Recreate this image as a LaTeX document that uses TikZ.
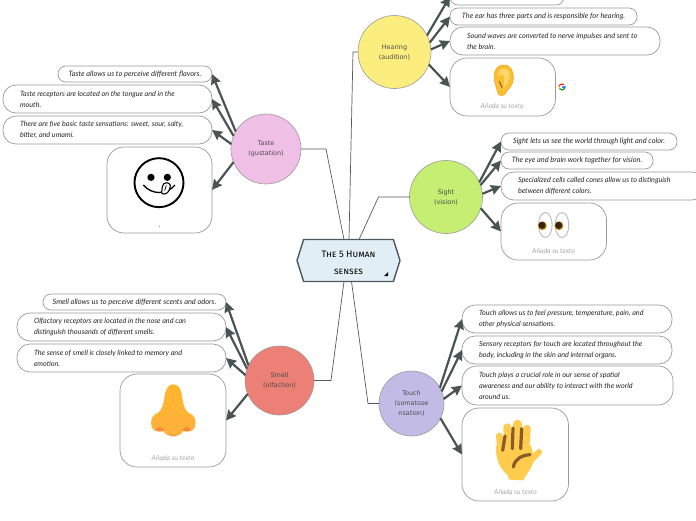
\documentclass[tikz,border=0pt]{standalone}
\usepackage{xcolor}
\usepackage{fontspec}
\setmainfont{Lato}
\newfontfamily\topicfont{DejaVu Sans}
\newfontfamily\titlefont[Letters=SmallCaps]{Fira Sans}
\usetikzlibrary{positioning, arrows.meta, shapes.symbols}
\definecolor{rootfill}{HTML}{E1EEF5}
\definecolor{rootborder}{HTML}{4A5A60}
\definecolor{arrowgray}{HTML}{4A5553}
\definecolor{boxborder}{HTML}{9A9A9A}
\definecolor{hearingyellow}{HTML}{FBEE7F}
\definecolor{tastepink}{HTML}{EFBFE6}
\definecolor{sightgreen}{HTML}{C5EE72}
\definecolor{smellred}{HTML}{EC8076}
\definecolor{touchviolet}{HTML}{C2BBE5}
\definecolor{skinyellow}{HTML}{FFCC4D}
\definecolor{creasebrown}{HTML}{8A5A2B}
\definecolor{earouter}{HTML}{FBBF33}
\definecolor{earinner}{HTML}{FFD766}
\definecolor{earedge}{HTML}{F2A61F}
\definecolor{nosetop}{HTML}{FFB62E}
\definecolor{nosemid}{HTML}{FFDC4C}
\definecolor{nosebottom}{HTML}{FFB03B}
\definecolor{nostrilred}{HTML}{F98A3C}
\definecolor{irisgold}{HTML}{B8860B}
\definecolor{pupildark}{HTML}{3A2410}
\tikzset{
  topic/.style={circle, draw=boxborder, line width=0.6pt, inner sep=0pt, outer sep=0pt, align=center,
    text=black!70, font=\topicfont\fontsize{6.4}{10}\selectfont},
  notebox/.style={draw=boxborder, fill=white, line width=0.7pt, rounded corners=8pt, inner sep=0pt, outer sep=0pt,
    font=\fontsize{7.4}{11}\selectfont\itshape, text=black!85, align=center, minimum height=17pt},
  longnote/.style={rounded corners=13pt, minimum height=28pt, minimum width=#1, text width=#1-6pt, align=none,
    font=\fontsize{7.2}{11}\selectfont\itshape,
    execute at begin node={\leftskip=14pt\rightskip=0pt plus 1fil\relax}},
  picturebox/.style={draw=boxborder, fill=white, line width=0.7pt, rounded corners=17pt, inner sep=0pt, outer sep=0pt},
  captiontext/.style={font=\fontsize{6.8}{8}\selectfont\itshape, text=black!35, inner sep=0pt},
  link/.style={draw=black!65, line width=0.7pt},
  branch/.style={draw=arrowgray, line width=2.2pt, -{Stealth[length=10pt, width=10pt, inset=1pt]}}
}
\begin{document}
\begin{tikzpicture}[x=1pt, y=-1pt]
  \clip (0,0) rectangle (696,520);

  \node[signal, signal to=east and west, signal pointer angle=145,
        minimum width=103pt, minimum height=42pt, inner sep=0pt, outer sep=0pt, fill=rootfill, draw=rootborder,
        line width=1.4pt, align=center, font=\titlefont\fontsize{9.4}{17}\selectfont] (root) at (348.5,260.5)
    {\rule{0pt}{12pt}The 5 Human\\senses};
  \fill (384,276) -- (388,276) -- (388,272) -- cycle;

  \node[topic, minimum size=73pt, fill=hearingyellow] (hearing) at (394.5,52) {Hearing\\(audition)};
  \node[topic, minimum size=70pt, fill=tastepink] (taste) at (266,149) {Taste\\(gustation)};
  \node[topic, minimum size=73pt, fill=sightgreen] (sight) at (446,197) {Sight\\(vision)};
  \node[topic, minimum size=69pt, fill=smellred] (smell) at (279.5,380.5) {Smell\\(olfaction)};
  \node[topic, minimum size=65pt, fill=touchviolet] (touch) at (411.5,403.5) {Touch\\(somatose\\nsation)};

  \node[notebox, minimum width=114pt, anchor=south west] (hear0) at (450,5) {};
  \node[notebox, minimum width=187pt, anchor=north west] (hear1) at (450,8)
    {The ear has three parts and is responsible for hearing.};
  \node[notebox, longnote=210pt, below=2pt of hear1.south west, anchor=north west] (hear2)
    {Sound waves are converted to nerve impulses and sent to\\the brain.};
  \node[picturebox, minimum width=105.5pt, minimum height=58pt, below=3pt of hear2.south west, anchor=north west] (hear3) {};
  \node[captiontext] (hearcap) at (502,106) {Añada su texto};

  \node[notebox, minimum width=154pt, minimum height=16pt, anchor=north east] (taste1) at (212,66)
    {Taste allows us to perceive different flavors.};
  \node[notebox, longnote=209pt, below=3pt of taste1.south east, anchor=north east] (taste2)
    {Taste receptors are located on the tongue and in the\\mouth.};
  \node[notebox, longnote=209pt, below=3pt of taste2.south east, anchor=north east] (taste3)
    {There are five basic taste sensations: sweet, sour, salty,\\bitter, and umami.};
  \node[picturebox, minimum width=105pt, minimum height=86pt, below=3pt of taste3.south east, anchor=north east] (taste4) {};

  \node[notebox, minimum width=176pt, anchor=north west] (sight1) at (501,133)
    {Sight lets us see the world through light and color.};
  \node[notebox, minimum width=152pt, below=2pt of sight1.south west, anchor=north west] (sight2)
    {The eye and brain work together for vision.};
  \node[notebox, longnote=204pt, below=3pt of sight2.south west, anchor=north west] (sight3)
    {Specialized cells called cones allow us to distinguish\\between different colors.};
  \node[picturebox, minimum width=105.5pt, minimum height=57pt, below=3pt of sight3.south west, anchor=north west] (sight4) {};
  \node[captiontext] (sightcap) at (553.5,251) {Añada su texto};

  \node[notebox, minimum width=183pt, minimum height=16pt, anchor=north east] (smell1) at (226,294)
    {Smell allows us to perceive different scents and odors.};
  \node[notebox, longnote=209pt, below=3pt of smell1.south east, anchor=north east] (smell2)
    {Olfactory receptors are located in the nose and can\\distinguish thousands of different smells.};
  \node[notebox, longnote=209pt, below=3pt of smell2.south east, anchor=north east] (smell3)
    {The sense of smell is closely linked to memory and\\emotion.};
  \node[picturebox, minimum width=106pt, minimum height=93pt, below=2pt of smell3.south east, anchor=north east] (smell4) {};
  \node[captiontext] (smellcap) at (173,458) {Añada su texto};

  \node[notebox, longnote=210pt, anchor=north west] (touch1) at (462,305)
    {Touch allows us to feel pressure, temperature, pain, and\\other physical sensations.};
  \node[notebox, longnote=210pt, below=3pt of touch1.south west, anchor=north west] (touch2)
    {Sensory receptors for touch are located throughout the\\body, including in the skin and internal organs.};
  \node[notebox, longnote=211pt, minimum height=39pt, rounded corners=15pt, below=2pt of touch2.south west, anchor=north west] (touch3)
    {Touch plays a crucial role in our sense of spatial\\awareness and our ability to interact with the world\\around us.};
  \node[picturebox, minimum width=106.5pt, minimum height=93pt, below=3pt of touch3.south west, anchor=north west] (touch4) {};
  \node[captiontext] (touchcap) at (515.5,492) {Añada su texto};

  \draw[link] (hearing.west) -- ++(-5,0) -- ([xshift=0.5pt]root.north);
  \draw[link] (taste.east) -- ++(25,0) -- ([xshift=-4.5pt]root.north);
  \draw[link] (sight.west) -- ++(-31,0) -- ([xshift=10.5pt]root.north);
  \draw[link] (smell.east) -- ++(17,0) -- ([xshift=-4.5pt]root.south);
  \draw[link] (touch.west) -- ++(-11,0) -- ([xshift=3pt]root.south);

  \draw[branch] (hearing.27) -- (hear0.west);
  \draw[branch] (hearing.15) -- (hear1.west);
  \draw[branch] (hearing.4) -- (hear2.west);
  \draw[branch] (hearing.-20) -- (hear3.west);
  \draw[branch] (taste.150) -- (taste1.east);
  \draw[branch] (taste.158) -- (taste2.east);
  \draw[branch] (taste.172) -- (taste3.east);
  \draw[branch] (taste.202) -- (taste4.east);
  \draw[branch] (sight.24) -- (sight1.west);
  \draw[branch] (sight.19) -- (sight2.west);
  \draw[branch] (sight.5) -- (sight3.west);
  \draw[branch] (sight.-18) -- (sight4.west);
  \draw[branch] (smell.154) -- (smell1.east);
  \draw[branch] (smell.160) -- (smell2.east);
  \draw[branch] (smell.171) -- (smell3.east);
  \draw[branch] (smell.203) -- (smell4.east);
  \draw[branch] (touch.29) -- (touch1.west);
  \draw[branch] (touch.22) -- (touch2.west);
  \draw[branch] (touch.8) -- (touch3.west);
  \draw[branch] (touch.-27) -- (touch4.west);

  \begin{scope}[shift={(470,55)}, x=0.3333pt, y=-0.3333pt]
    \filldraw[draw=earedge, line width=0.5pt, fill=earouter]
      (100,30) .. controls (122,28) and (132,50) .. (130,72) .. controls (128,95) and (115,100) .. (110,110)
      .. controls (105,125) and (85,128) .. (82,110) .. controls (80,95) and (72,85) .. (72,65)
      .. controls (72,42) and (85,30) .. (100,30) -- cycle;
    \fill[earinner] (102,40) .. controls (115,42) and (122,55) .. (118,72) .. controls (114,85) and (105,90) .. (102,100)
      .. controls (100,85) and (106,70) .. (100,60) .. controls (92,55) and (85,60) .. (83,65) .. controls (84,50) and (92,40) .. (102,40) -- cycle;
    \draw[brown!70!black, line width=1pt] (88,78) .. controls (92,84) and (92,90) .. (96,98);
  \end{scope}

  \begin{scope}[line width=1.1pt]
    \draw[red!80!orange] (564.1,84.9) arc (-45:-170:3);
    \draw[yellow!80!orange] (559.05,86.5) arc (-170:-215:3);
    \draw[green!60!black] (559.5,88.7) arc (-215:-320:3);
    \draw[blue!70!cyan] (564.3,88.9) arc (-320:-360:3) -- (562.2,87);
  \end{scope}

  \begin{scope}[shift={(125,150)}, x=0.3333pt, y=-0.3333pt]
    \draw[black, line width=1.9pt] (102,98) circle (24.5pt);
    \fill[black] (78,82) circle (3.6pt) (127,82) circle (3.6pt);
    \draw[black, line width=1.3pt] (55,105) .. controls (80,135) and (125,135) .. (150,105);
    \draw[black, fill=white, line width=1.1pt] (110,128) -- (112,110) .. controls (114,95) and (134,95) .. (136,106)
      .. controls (136,118) and (128,132) .. (118,132) .. controls (114,132) and (110,132) .. (110,128) -- cycle;
    \draw[black, line width=0.7pt] (124,106) -- (119,122);
  \end{scope}
  \fill[black!70] (159.5,226) circle (0.5pt);

  \begin{scope}[shift={(525,205)}, x=0.3333pt, y=-0.3333pt]
    \draw[black!25, fill=white, line width=1pt] (61,60) ellipse (6.8pt and 12.5pt) (111,60) ellipse (6.8pt and 12.5pt);
    \fill[irisgold] (52,62) circle (4.4pt) (102,62) circle (4.4pt);
    \fill[pupildark] (51,61) circle (3.5pt) (101,61) circle (3.5pt);
  \end{scope}

  \begin{scope}[shift={(140,375)}, x=0.3333pt, y=-0.3333pt]
    \shade[top color=nosetop, middle color=nosemid, bottom color=nosebottom]
      (100,28) .. controls (118,28) and (124,45) .. (127,70) .. controls (130,90) and (135,105) .. (145,113)
      .. controls (165,118) and (170,140) .. (165,155) .. controls (160,170) and (145,172) .. (130,168)
      .. controls (120,188) and (80,188) .. (70,168) .. controls (55,172) and (40,170) .. (35,155)
      .. controls (30,140) and (35,118) .. (55,113) .. controls (65,105) and (70,90) .. (73,70)
      .. controls (76,45) and (82,28) .. (100,28) -- cycle;
    \fill[nostrilred] (47,166) .. controls (52,152) and (68,152) .. (72,167) .. controls (64,170) and (55,170) .. (47,166) -- cycle;
    \fill[nostrilred] (128,167) .. controls (132,152) and (148,152) .. (153,166) .. controls (145,170) and (136,170) .. (128,167) -- cycle;
    \fill[nostrilred] (85,178) .. controls (95,183) and (105,183) .. (115,178) .. controls (108,186) and (92,186) .. (85,178) -- cycle;
  \end{scope}

  \begin{scope}[shift={(485,412)}, x=0.3333pt, y=-0.3333pt]
    \draw[skinyellow, line width=6.8pt, line cap=round] (43,72) -- (50,130);
    \draw[skinyellow, line width=8pt, line cap=round] (67,46) -- (70,130);
    \draw[skinyellow, line width=8.4pt, line cap=round] (97,36) -- (97,130);
    \draw[skinyellow, line width=7.6pt, line cap=round] (126,50) -- (120,130);
    \draw[skinyellow, line width=6pt, line cap=round] (162,120) -- (125,158);
    \fill[skinyellow] (32,100) .. controls (33,140) and (40,165) .. (68,190) -- (72,203) -- (115,205)
      .. controls (122,185) and (140,175) .. (148,140) -- (138,100) -- cycle;
    \draw[creasebrown, line width=3.2pt, line cap=round] (60,72) -- (53,115);
    \draw[creasebrown, line width=3.2pt, line cap=round] (84,48) -- (82,110);
    \draw[creasebrown, line width=3.2pt, line cap=round] (110,50) -- (107,110);
    \draw[creasebrown, line width=3.2pt, line cap=round] (85,165) .. controls (90,140) and (110,130) .. (135,128);
  \end{scope}
\end{tikzpicture}
\end{document}
